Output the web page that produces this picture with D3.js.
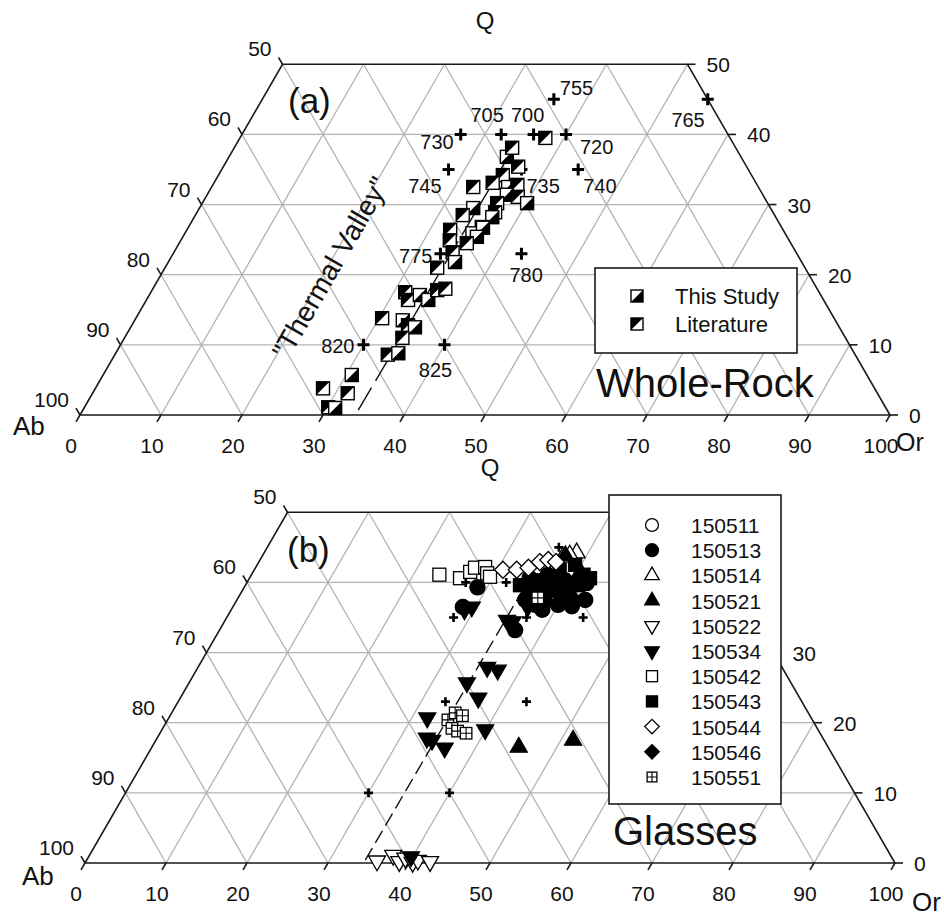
<!DOCTYPE html>
<html>
<head>
<meta charset="utf-8">
<script src="https://cdn.jsdelivr.net/npm/d3@7"></script>
<style>
  body { margin: 0; background: #fff; }
  svg { display: block; }
  text { font-family: "Liberation Sans", Arial, Helvetica, sans-serif; fill: #111; }
</style>
</head>
<body>
<svg id="chart" width="944" height="916"></svg>
<script>
// ---------- axis tick labels ----------
const bottomTicks = [0, 10, 20, 30, 40, 50, 60, 70, 80, 90, 100];   // Or
const leftTicks   = [100, 90, 80, 70, 60, 50];                      // Ab
const rightTicks  = [0, 10, 20, 30, 40, 50];                        // Q
const gridSteps   = [10, 20, 30, 40, 50, 60, 70, 80, 90];

// ---------- haplogranite minima (Or, Q normalised wt%) ----------
const minLabels = ["700", "705", "720", "730", "735", "740", "745", "755", "765", "775", "780", "820", "825"];
const minOr     = [36,    32,    40,    27,    37,    44,    28,    36,    55,    33,    43,    30,    40];
const minQ      = [40,    40,    40,    40,    35,    35,    35,    45,    45,    23,    23,    10,    10];

// ---------- whole-rock compositions ----------
const wrOr  = [37.7, 34.3, 36.4, 35.1, 34.4, 32.3, 36.6, 37.6, 37.0, 38.5, 40.1, 36.4, 33.8, 33.0, 36.8,
               36.8, 36.2, 35.5, 32.5, 33.2, 34.4, 36.4, 36.3, 35.5, 35.4, 33.6, 31.4, 32.3, 33.4, 34.8,
               35.2, 36.1, 30.4, 33.1, 34.1, 35.1, 34.3, 33.7, 34.9, 30.7, 28.1, 31.5, 30.1, 31.0, 34.3];
const wrQ   = [39.5, 36.8, 35.4, 34.2, 33.1, 32.5, 32.5, 32.8, 31.4, 31.1, 30.2, 30.2, 29.5, 28.5, 28.9,
               28.2, 26.8, 25.9, 26.4, 24.9, 23.2, 26.7, 25.4, 24.5, 21.8, 21.0, 17.5, 16.4, 17.1, 16.4,
               17.8, 18.0, 13.8, 13.5, 12.8, 12.5, 11.0,  8.6,  8.8,  5.7,  3.8,  3.1,  1.1,  1.0, 38.1];
const wrSrc = ["L","T","L","L","L","L","T","L","T","L","T","L","T","L","L",
               "T","L","T","L","L","L","T","T","L","T","L","L","L","T","T",
               "L","L","L","T","L","T","L","L","T","T","L","L","L","T","L"];
const wrSources = ["T", "L"];
const wrNames   = ["This Study", "Literature"];

// ---------- thermal valley trace (Or, Q) ----------
const valleyA = { or: [34.0, 34.5], q: [0.7, 39] };
const valleyB = { or: [34.4, 34.6], q: [0.4, 41] };

// ---------- glass compositions by sample ----------
const glassSamples = ["150511", "150513", "150514", "150521", "150522", "150534", "150542", "150543", "150544", "150546", "150551"];
const glassOr = {
  "150511": [38.4, 40.5],
  "150513": [28.8, 28.4, 38.4, 40.0, 36.5, 41.2, 35.5, 37.7, 39.3, 41.0, 43.0, 37.9, 35.6, 39.1, 42.0, 36.6, 34.6, 41.8, 37.2],
  "150514": [38.6, 37.9, 37.2],
  "150521": [45.3, 51.5, 40.5, 40.4, 38.3, 37.4],
  "150522": [35.9, 37.5, 38.7, 39.2, 40.4, 40.9, 42.5],
  "150534": [34.3, 36.8, 35.7, 37.2, 31.9, 33.3, 34.1, 36.2, 39.9, 28.8, 29.5, 36.4, 34.8, 35.6, 39.8],
  "150542": [23.2, 26.0, 26.8, 27.1, 28.3, 29.0, 29.6],
  "150543": [35.4, 37.6, 39.8, 41.1, 38.0, 33.9, 41.0, 37.7, 39.25, 42.05],
  "150544": [30.7, 32.4, 33.7, 34.7, 35.6, 36.7],
  "150546": [36.6, 38.6, 40.1],
  "150551": [34.6, 35.0, 36.1, 35.7, 36.6, 37.8, 37.0]
};
const glassQ = {
  "150511": [37.9, 37.5],
  "150513": [39.3, 36.5, 36.1, 36.8, 33.2, 39.9, 38.9, 38.2, 38.6, 37.8, 37.5, 39.9, 37.5, 40.3, 39.9, 41.05, 40.6, 36.6, 36.8],
  "150514": [44.2, 43.9, 43.6],
  "150521": [16.5, 17.5, 40.1, 41.5, 40.6, 43.8],
  "150522": [0.3, 1.1, 0.2, 0.7, 0.1, 0.4, 0.2],
  "150534": [25.7, 23.5, 27.9, 27.5, 20.7, 17.8, 17.5, 16.4, 19.0, 36.1, 36.5, 36.5, 34.6, 34.4, 0.9],
  "150542": [41.1, 40.6, 41.5, 42.1, 42.2, 41.3, 40.8],
  "150543": [40.3, 39.6, 38.9, 39.6, 37.5, 39.6, 41.1, 41.8, 42.5, 40.6],
  "150544": [41.8, 41.8, 42.1, 42.9, 43.2, 42.9],
  "150546": [39.2, 38.9, 39.6],
  "150551": [20.4, 21.4, 21.0, 19.2, 18.8, 18.5, 37.8]
};
// marker shape and fill for each sample
const glassShape = ["circle", "circle", "triUp", "triUp", "triDown", "triDown", "square", "square", "diamond", "diamond", "gridSquare"];
const glassFill  = [false, true, false, true, false, true, false, true, false, true, false];

// ---------- drawing ----------
const svg = d3.select("#chart");
const S3 = Math.sqrt(3) / 2;

function ternary(x0, y0, W) {
  const xs = d3.scaleLinear().domain([0, 100]).range([x0, x0 + W]);
  const ys = d3.scaleLinear().domain([0, 100]).range([y0, y0 - W * S3]);
  const p = (or, q) => [xs(or + q / 2), ys(q)];
  return { xs, ys, p };
}

const line = d3.line();

// frame, grid, ticks and tick labels; labels covered by a legend box are left out
function drawFrame(g, T, cover) {
  const hidden = (x, y) => cover && x > cover[0] && x < cover[2] && y > cover[1] && y < cover[3];
  const grid = g.append("g").attr("fill", "none").attr("stroke", "#b3b3b3").attr("stroke-width", 1.3);
  gridSteps.forEach(k => {
    if (k < 50) grid.append("path").attr("d", line([T.p(0, k), T.p(100 - k, k)]));
    const qo = Math.min(50, 100 - k);
    grid.append("path").attr("d", line([T.p(k, 0), T.p(k, qo)]));
    const qa = Math.min(50, k);
    grid.append("path").attr("d", line([T.p(k, 0), T.p(k - qa, qa)]));
  });

  const ax = g.append("g").attr("fill", "none").attr("stroke", "#1a1a1a").attr("stroke-width", 1.6);
  ax.append("path").attr("d", line([T.p(0, 0), T.p(100, 0), T.p(50, 50), T.p(0, 50)]) + "Z");

  const tl = 8;
  bottomTicks.forEach(v => {
    const [x, y] = T.p(v, 0);
    ax.append("path").attr("d", line([[x, y], [x - tl * 0.5, y + tl * S3]]));
    g.append("text").attr("x", x - 9).attr("y", y + 38).attr("text-anchor", "middle")
      .attr("font-size", 21).text(v);
  });
  leftTicks.forEach(v => {
    const q = 100 - v;
    const [x, y] = T.p(0, q);
    ax.append("path").attr("d", line([[x, y], [x - tl * 0.5, y - tl * S3]]));
    g.append("text").attr("x", x - 11).attr("y", y - 8).attr("text-anchor", "end")
      .attr("font-size", 21).text(v);
  });
  rightTicks.forEach(v => {
    const [x, y] = T.p(100 - v, v);
    ax.append("path").attr("d", line([[x, y], [x + tl, y]]));
    if (hidden(x + 19, y)) return;
    g.append("text").attr("x", x + 19).attr("y", y + 8).attr("text-anchor", "start")
      .attr("font-size", 21).text(v);
  });
}

function drawValley(g, T, v, dash) {
  g.append("path")
    .attr("d", line(v.or.map((o, i) => T.p(o, v.q[i]))))
    .attr("fill", "none").attr("stroke", "#111").attr("stroke-width", 1.4)
    .attr("stroke-dasharray", dash);
}

function plusPath(h) { return `M${-h},0H${h}M0,${-h}V${h}`; }

function drawMinima(g, T, h, sw) {
  g.append("g").selectAll("path").data(minLabels).join("path")
    .attr("transform", (d, i) => `translate(${T.p(minOr[i], minQ[i])})`)
    .attr("d", plusPath(h)).attr("stroke", "#000").attr("stroke-width", sw).attr("fill", "none");
}

// half-filled square: "T" = lower-right black, "L" = upper-left black
function halfSquare(sel, src, s) {
  const h = s / 2;
  sel.append("rect").attr("x", -h).attr("y", -h).attr("width", s).attr("height", s)
    .attr("fill", "#fff").attr("stroke", "#000").attr("stroke-width", 1.4);
  const tri = src === "T"
    ? [[h, -h], [h, h], [-h, h]]
    : [[-h, -h], [h, -h], [-h, h]];
  sel.append("path").attr("d", line(tri) + "Z").attr("fill", "#000");
}

function glassMarker(sel, shape, filled, scale) {
  const k = scale || 1;
  const fill = filled ? "#000" : "#fff";
  let el;
  if (shape === "circle") {
    el = sel.append("circle").attr("r", 7.6 * k);
  } else if (shape === "triUp" || shape === "triDown") {
    const s = 17 * k, hgt = s * S3;
    const pts = [[0, -hgt * 2 / 3], [s / 2, hgt / 3], [-s / 2, hgt / 3]];
    el = sel.append("path").attr("d", line(pts) + "Z");
    if (shape === "triDown") el.attr("transform", "rotate(180)");
  } else if (shape === "square") {
    const s = 13 * k;
    el = sel.append("rect").attr("x", -s / 2).attr("y", -s / 2).attr("width", s).attr("height", s);
  } else if (shape === "diamond") {
    const r = 8.5 * k;
    el = sel.append("path").attr("d", line([[0, -r], [r, 0], [0, r], [-r, 0]]) + "Z");
  } else if (shape === "gridSquare") {
    const s = 11.5 * k;
    el = sel.append("rect").attr("x", -s / 2).attr("y", -s / 2).attr("width", s).attr("height", s);
    sel.append("path").attr("d", `M${-s / 2},0H${s / 2}M0,${-s / 2}V${s / 2}`)
      .attr("stroke", "#000").attr("stroke-width", 1.1);
  }
  el.attr("fill", fill).attr("stroke", "#000").attr("stroke-width", 1.3);
  if (shape === "gridSquare") el.lower();
}

// ================= panel (a): whole-rock =================
const TA = ternary(80, 415, 810);
const gA = svg.append("g");
drawFrame(gA, TA, null);
drawValley(gA, TA, valleyA, "26,8");
drawMinima(gA, TA, 6, 3);

// minima temperature labels, placed around each cross
const labelSpot = {
  "700": [-6, -12, "middle"], "705": [-14, -12, "middle"], "720": [14, 20, "start"],
  "730": [-7, 15, "end"], "735": [5, 24, "start"], "740": [5, 24, "start"],
  "745": [-7, 24, "end"], "755": [6, -4, "start"], "765": [-3, 28, "end"],
  "775": [-8, 9, "end"], "780": [-12, 28, "start"], "820": [-9, 8, "end"], "825": [-9, 32, "middle"]
};
minLabels.forEach((lab, i) => {
  const [x, y] = TA.p(minOr[i], minQ[i]);
  const [dx, dy, anc] = labelSpot[lab];
  gA.append("text").attr("x", x + dx).attr("y", y + dy).attr("text-anchor", anc)
    .attr("font-size", 20).text(lab);
});

// whole-rock symbols
wrOr.forEach((o, i) => {
  const [x, y] = TA.p(o, wrQ[i]);
  halfSquare(gA.append("g").attr("transform", `translate(${x},${y})`), wrSrc[i], 13);
});

// thermal valley caption, running parallel to the Ab–Q edge
{
  const [x, y] = TA.p(20.4, 21);
  gA.append("text").attr("transform", `translate(${x},${y}) rotate(-60)`)
    .attr("text-anchor", "middle").attr("dy", "0.35em").attr("font-size", 28)
    .text("\"Thermal Valley\"");
}

// legend (a)
{
  const lg = gA.append("g");
  lg.append("rect").attr("x", 595).attr("y", 268).attr("width", 202).attr("height", 85)
    .attr("fill", "#fff").attr("stroke", "#1a1a1a").attr("stroke-width", 1.6);
  wrSources.forEach((s, i) => {
    const y = 296 + i * 28;
    halfSquare(lg.append("g").attr("transform", `translate(637,${y})`), s, 12);
    lg.append("text").attr("x", 675).attr("y", y + 8).attr("font-size", 22).text(wrNames[i]);
  });
}

gA.append("text").attr("x", 288).attr("y", 113).attr("font-size", 35).text("(a)");
gA.append("text").attr("x", 596).attr("y", 397).attr("font-size", 40).text("Whole-Rock");
gA.append("text").attr("x", 485).attr("y", 29).attr("text-anchor", "middle").attr("font-size", 24).text("Q");
gA.append("text").attr("x", 13).attr("y", 435).attr("font-size", 26).text("Ab");
gA.append("text").attr("x", 896).attr("y", 451).attr("font-size", 25).text("Or");

// ================= panel (b): glasses =================
const legendB = [609, 495, 781, 804];
const TB = ternary(85, 863, 810);
const gB = svg.append("g");
drawFrame(gB, TB, legendB);
drawValley(gB, TB, valleyB, "14,6");

glassSamples.forEach((s, si) => {
  glassOr[s].forEach((o, i) => {
    const [x, y] = TB.p(o, glassQ[s][i]);
    glassMarker(gB.append("g").attr("transform", `translate(${x},${y})`), glassShape[si], glassFill[si]);
  });
});
drawMinima(gB, TB, 4.5, 2.6);

// legend (b)
{
  const lg = gB.append("g");
  lg.append("rect").attr("x", legendB[0]).attr("y", legendB[1])
    .attr("width", legendB[2] - legendB[0]).attr("height", legendB[3] - legendB[1])
    .attr("fill", "#fff").attr("stroke", "#1a1a1a").attr("stroke-width", 1.6);
  glassSamples.forEach((s, i) => {
    const y = 525 + i * 25.2;
    glassMarker(lg.append("g").attr("transform", `translate(652,${y})`), glassShape[i], glassFill[i], 0.85);
    lg.append("text").attr("x", 691).attr("y", y + 8).attr("font-size", 21).text(s);
  });
}

gB.append("text").attr("x", 287).attr("y", 562).attr("font-size", 35).text("(b)");
gB.append("text").attr("x", 613).attr("y", 845).attr("font-size", 40).text("Glasses");
gB.append("text").attr("x", 490).attr("y", 476).attr("text-anchor", "middle").attr("font-size", 24).text("Q");
gB.append("text").attr("x", 22).attr("y", 885).attr("font-size", 26).text("Ab");
gB.append("text").attr("x", 912).attr("y", 911).attr("font-size", 26).text("Or");
</script>
</body>
</html>
